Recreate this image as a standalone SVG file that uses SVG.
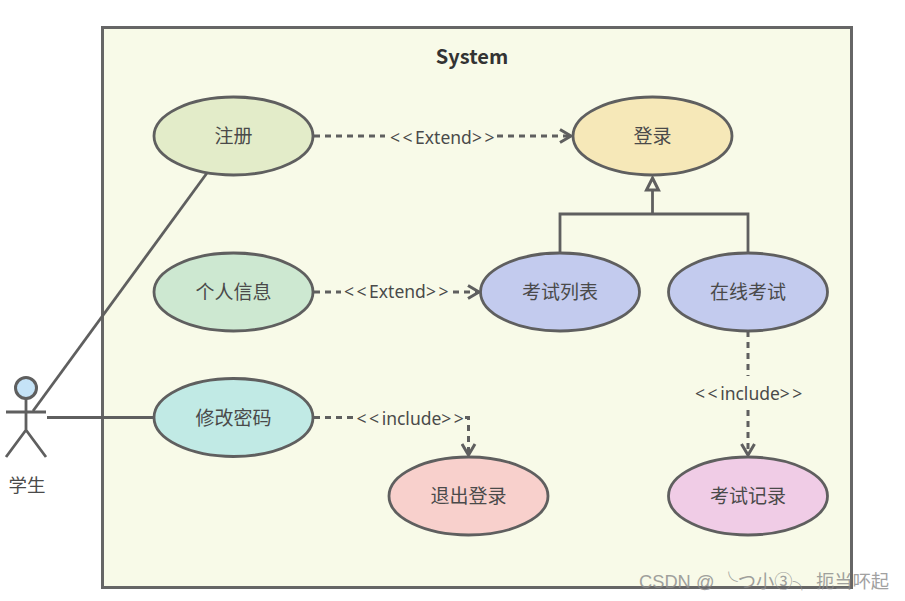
<svg xmlns="http://www.w3.org/2000/svg" width="905" height="601" viewBox="0 0 905 601">
<defs>
<marker id="open" markerUnits="userSpaceOnUse" markerWidth="16" markerHeight="16" refX="13" refY="8" orient="auto"><path d="M2 1.500 L13 8 L2 14.500" fill="none" stroke="#5f5f5f" stroke-width="3"/></marker>
</defs>
<style>
text{font-family:"Noto Sans CJK SC","Noto Sans",sans-serif;fill:#4a4a4a;font-size:19px;text-anchor:middle}
.n{fill:none;stroke:#5f5f5f;stroke-width:2.800;stroke-linejoin:miter}
.d{fill:none;stroke:#5f5f5f;stroke-width:3;stroke-dasharray:6 5}
.u{stroke:#5f5f5f;stroke-width:2.800}
.l{font-family:"Noto Sans","Noto Sans CJK SC",sans-serif;font-size:17.500px}
.s{letter-spacing:2.500px}
.w{font-family:"Liberation Sans","Noto Sans CJK SC",sans-serif;font-size:18.300px;fill:#8a8a8a;opacity:.8;text-anchor:start}
</style>
<rect width="905" height="601" fill="#fff"/>
<g id="system"><rect x="102.500" y="27.500" width="749" height="560" fill="#f8fae8" stroke="#666" stroke-width="3"/>
<text x="472" y="64" style="font-size:20px;font-weight:700;fill:#333">System</text></g>
<g id="connectors">
<path class="n" d="M207 173 L33 411"/>
<path class="n" d="M47 417.500 H154"/>
<path class="d" d="M314 136 H385"/>
<path class="d" d="M497 136 H571" marker-end="url(#open)"/>
<path class="d" d="M314 292 H341"/>
<path class="d" d="M453 292 H479" marker-end="url(#open)"/>
<path class="d" d="M314 417.500 H353"/>
<path class="d" d="M465 417.500 H468.500 V455" marker-end="url(#open)"/>
<path class="n" d="M560 252 V214 H748 V252"/>
<path class="n" d="M652.500 214 V190"/>
<path d="M652.500 178 L658.500 190 H646.500 Z" fill="#f8fae8" stroke="#5f5f5f" stroke-width="3"/>
<path class="d" d="M748 331 V376"/>
<path class="d" d="M748 410 V455" marker-end="url(#open)"/>
<text class="l" x="443.500" y="144"><tspan class="s">&lt;&lt;</tspan>Extend<tspan class="s">&gt;&gt;</tspan></text>
<text class="l" x="397.500" y="298"><tspan class="s">&lt;&lt;</tspan>Extend<tspan class="s">&gt;&gt;</tspan></text>
<text class="l" x="411.500" y="425"><tspan class="s">&lt;&lt;</tspan>include<tspan class="s">&gt;&gt;</tspan></text>
<text class="l" x="750" y="400"><tspan class="s">&lt;&lt;</tspan>include<tspan class="s">&gt;&gt;</tspan></text>
</g>
<g id="actor">
<circle cx="26" cy="388" r="10.500" fill="#c5e3f7" stroke="#5f5f5f" stroke-width="3"/>
<path class="n" d="M26 398.500 V430 M6 412 H46 M6 457 L26 430 L46 457"/>
<text x="27" y="492" style="font-size:18.500px">学生</text>
</g>
<g id="register"><ellipse class="u" cx="233.500" cy="136" rx="79.500" ry="39" fill="#e3ecc9"/><text x="233.500" y="143">注册</text></g>
<g id="login"><ellipse class="u" cx="652.500" cy="136" rx="79.500" ry="39" fill="#f6e8b8"/><text x="652.500" y="143">登录</text></g>
<g id="profile"><ellipse class="u" cx="233.500" cy="292" rx="79.500" ry="39" fill="#cde8d1"/><text x="233.500" y="299">个人信息</text></g>
<g id="examlist"><ellipse class="u" cx="560" cy="292" rx="79.500" ry="39" fill="#c3cbee"/><text x="560" y="299">考试列表</text></g>
<g id="online"><ellipse class="u" cx="748" cy="292" rx="79.500" ry="39" fill="#c3cbee"/><text x="748" y="299">在线考试</text></g>
<g id="password"><ellipse class="u" cx="233.500" cy="417.500" rx="79.500" ry="39" fill="#c1eae5"/><text x="233.500" y="425">修改密码</text></g>
<g id="logout"><ellipse class="u" cx="468.500" cy="496" rx="79.500" ry="39" fill="#f8d0cc"/><text x="468.500" y="503">退出登录</text></g>
<g id="records"><ellipse class="u" cx="748" cy="496" rx="79.500" ry="39" fill="#f0cce6"/><text x="748" y="503">考试记录</text></g>
<text class="w" x="639" y="588">CSDN @ ╰つ小③╮ 扼当吥起</text>
</svg>
